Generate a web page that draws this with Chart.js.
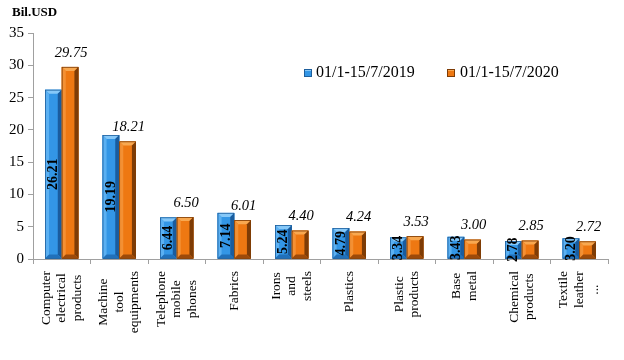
<!DOCTYPE html>
<html>
<head>
<meta charset="utf-8">
<script src="https://cdn.jsdelivr.net/npm/chart.js@4/dist/chart.umd.min.js"></script>
<style>
html,body{margin:0;padding:0;background:#fff;}
canvas{display:block;}
</style>
</head>
<body>
<canvas id="c" width="624" height="360"></canvas>
<script>
const categories = [
  ["Computer","electrical","products"],
  ["Machine","tool","equipments"],
  ["Telephone","mobile","phones"],
  ["Fabrics"],
  ["Irons","and","steels"],
  ["Plastics"],
  ["Plastic","products"],
  ["Base","metal"],
  ["Chemical","products"],
  ["Textile","leather","..."]
];
const series2019 = [26.21, 19.19, 6.44, 7.14, 5.24, 4.79, 3.34, 3.43, 2.78, 3.20];
const series2020 = [29.75, 18.21, 6.50, 6.01, 4.40, 4.24, 3.53, 3.00, 2.85, 2.72];
const seriesNames = ["01/1-15/7/2019", "01/1-15/7/2020"];
const unitLabel = "Bil.USD";
const yTicks = [0, 5, 10, 15, 20, 25, 30, 35];

const FONT = '"Liberation Serif", "Times New Roman", serif';
const palettes = [
  {face:'#3396E6', top:'#86C8F8', left:'#5BB0F2', right:'#1A5C9E', bottom:'#2070BA', edge:'#1E5F9C'},
  {face:'#EE7812', top:'#F8A850', left:'#F39034', right:'#7E3C06', bottom:'#9C4A0A', edge:'#7E3C06'}
];

const bevelPlugin = {
  id: 'bevel',
  afterDatasetsDraw(chart) {
    const ctx = chart.ctx;
    chart.data.datasets.forEach((ds, di) => {
      const p = palettes[di];
      chart.getDatasetMeta(di).data.forEach(bar => {
        const w = bar.width, l = bar.x - w/2, r = bar.x + w/2, t = bar.y, b = bar.base;
        const h = b - t;
        const bv = Math.min(4, h/2, w/2);
        ctx.save();
        ctx.fillStyle = p.face; ctx.fillRect(l, t, w, h);
        // top bevel
        ctx.fillStyle = p.top;
        ctx.beginPath(); ctx.moveTo(l, t); ctx.lineTo(r, t); ctx.lineTo(r - bv, t + bv); ctx.lineTo(l + bv, t + bv); ctx.closePath(); ctx.fill();
        // left bevel
        ctx.fillStyle = p.left;
        ctx.beginPath(); ctx.moveTo(l, t); ctx.lineTo(l + bv, t + bv); ctx.lineTo(l + bv, b - bv); ctx.lineTo(l, b); ctx.closePath(); ctx.fill();
        // right bevel
        ctx.fillStyle = p.right;
        ctx.beginPath(); ctx.moveTo(r, t); ctx.lineTo(r - bv, t + bv); ctx.lineTo(r - bv, b - bv); ctx.lineTo(r, b); ctx.closePath(); ctx.fill();
        // bottom bevel
        ctx.fillStyle = p.bottom;
        ctx.beginPath(); ctx.moveTo(l, b); ctx.lineTo(l + bv, b - bv); ctx.lineTo(r - bv, b - bv); ctx.lineTo(r, b); ctx.closePath(); ctx.fill();
        ctx.strokeStyle = p.edge; ctx.lineWidth = 0.8;
        ctx.strokeRect(l + 0.4, t + 0.4, w - 0.8, h - 0.4);
        ctx.restore();
      });
    });
  }
};

const textPlugin = {
  id: 'texts',
  afterDraw(chart) {
    const ctx = chart.ctx;
    const xs = chart.scales.x;
    ctx.save();
    ctx.fillStyle = '#000';
    // title
    ctx.font = 'bold 13px ' + FONT;
    ctx.textAlign = 'left'; ctx.textBaseline = 'middle';
    ctx.fillText(unitLabel, 12, 13);
    // x category labels (rotated, centered lines)
    ctx.font = '13.5px ' + FONT;
    const top = chart.chartArea.bottom + 12;
    categories.forEach((lines, i) => {
      const cx = xs.getPixelForValue(i);
      const maxW = Math.max(...lines.map(s => ctx.measureText(s).width));
      lines.forEach((s, j) => {
        const lx = cx + (j - (lines.length - 1) / 2) * 15.5;
        ctx.save();
        ctx.translate(lx, top + maxW / 2);
        ctx.rotate(-Math.PI / 2);
        ctx.textAlign = 'center'; ctx.textBaseline = 'middle';
        ctx.fillText(s, 0, 0);
        ctx.restore();
      });
    });
    // 2019 data labels inside bars, rotated, bold
    ctx.font = 'bold 14px ' + FONT;
    chart.getDatasetMeta(0).data.forEach((bar, i) => {
      ctx.save();
      ctx.translate(bar.x, (bar.y + bar.base) / 2);
      ctx.rotate(-Math.PI / 2);
      ctx.textAlign = 'center'; ctx.textBaseline = 'middle';
      ctx.fillText(series2019[i].toFixed(2), 0, 0);
      ctx.restore();
    });
    // 2020 data labels above bars, italic
    ctx.font = 'italic 14.5px ' + FONT;
    ctx.textAlign = 'center'; ctx.textBaseline = 'middle';
    chart.getDatasetMeta(1).data.forEach((bar, i) => {
      ctx.fillText(series2020[i].toFixed(2), bar.x + 1, bar.y - 14);
    });
    // legend
    const legendItems = [{x: 304, tx: 316}, {x: 447, tx: 460}];
    ctx.font = '16px ' + FONT;
    ctx.textAlign = 'left'; ctx.textBaseline = 'middle';
    legendItems.forEach((it, k) => {
      const p = palettes[k];
      ctx.fillStyle = p.face; ctx.fillRect(it.x, 69, 8, 8);
      ctx.fillStyle = p.top; ctx.fillRect(it.x, 69, 8, 2);
      ctx.strokeStyle = p.edge; ctx.lineWidth = 1; ctx.strokeRect(it.x + 0.5, 69.5, 7, 7);
      ctx.fillStyle = '#000';
      ctx.fillText(seriesNames[k], it.tx, 73);
    });
    ctx.restore();
  }
};

new Chart(document.getElementById('c'), {
  type: 'bar',
  data: {
    labels: categories,
    datasets: [
      {label: seriesNames[0], data: series2019, backgroundColor: palettes[0].face, borderWidth: 0},
      {label: seriesNames[1], data: series2020, backgroundColor: palettes[1].face, borderWidth: 0}
    ]
  },
  options: {
    responsive: false,
    animation: false,
    devicePixelRatio: 1,
    layout: {padding: {top: 33, right: 16, left: 0, bottom: 0}},
    datasets: {bar: {categoryPercentage: 0.58, barPercentage: 1.0}},
    plugins: {legend: {display: false}, tooltip: {enabled: false}, title: {display: false}},
    scales: {
      x: {
        offset: true,
        grid: {display: true, offset: true, drawOnChartArea: false, drawTicks: true, tickLength: 5, color: '#A0A0A0'},
        border: {display: true, color: '#A0A0A0'},
        ticks: {display: false},
        afterFit(s) { s.height = 101; }
      },
      y: {
        min: 0, max: 35,
        afterBuildTicks(s) { s.ticks = yTicks.map(v => ({value: v})); },
        ticks: {font: {family: FONT, size: 15}, color: '#000', padding: 4},
        grid: {display: true, drawOnChartArea: false, drawTicks: true, tickLength: 5, color: '#A0A0A0'},
        border: {display: true, color: '#A0A0A0'},
        afterFit(s) { s.width = 33; }
      }
    }
  },
  plugins: [bevelPlugin, textPlugin]
});
</script>
</body>
</html>
